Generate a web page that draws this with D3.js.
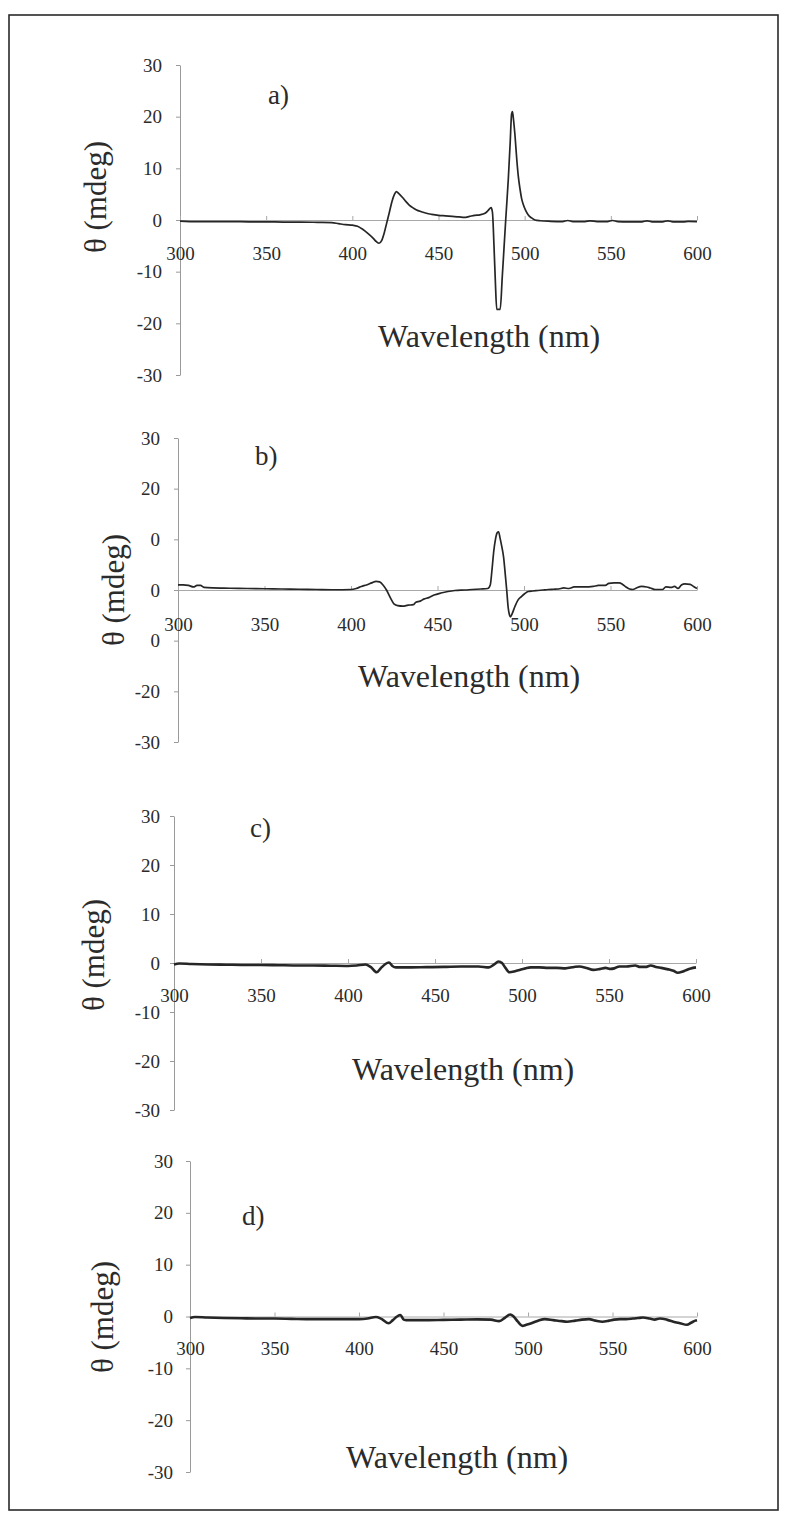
<!DOCTYPE html>
<html>
<head>
<meta charset="utf-8">
<script src="https://cdn.jsdelivr.net/npm/d3@7"></script>
<style>
  body { margin: 0; background: #fff; }
</style>
</head>
<body>
<svg id="fig" width="787" height="1520"></svg>
<script>
// ---- axis ticks and labels ----
const xTicks = [300, 350, 400, 450, 500, 550, 600];
const yTicks = [30, 20, 10, 0, -10, -20, -30];
const yLabelsStd = ["30", "20", "10", "0", "-10", "-20", "-30"];
const yLabelsB = ["30", "20", "0", "0", "0", "-20", "-30"];
const panelNames = ["a)", "b)", "c)", "d)"];
const xTitle = "Wavelength (nm)";
const yTitle = "θ (mdeg)";

// ---- CD spectra: [wavelength nm, ellipticity mdeg] ----
const specA = [
  [300,-0.2],[310,-0.3],[320,-0.3],[330,-0.3],[340,-0.35],[350,-0.35],[360,-0.4],[370,-0.4],
  [380,-0.45],[388,-0.5],[392,-0.7],[396,-0.9],[400,-1.0],[403,-1.2],[406,-1.8],[409,-2.6],
  [412,-3.5],[414,-4.2],[415.5,-4.5],[417,-4.0],[418.5,-2.5],[420,-0.5],[421.5,1.5],[423,3.6],
  [424.5,5.0],[425.5,5.5],[427,5.1],[429,4.4],[431,3.6],[433,2.9],[435,2.4],[437,2.0],
  [440,1.6],[443,1.3],[446,1.1],[450,0.9],[454,0.8],[458,0.7],[462,0.6],[465,0.5],
  [468,0.7],[471,0.9],[474,1.0],[477,1.3],[479,1.9],[480.5,2.4],[481.3,1.5],[482.2,-5],
  [483,-12],[483.8,-17.3],[485.8,-17.3],[487,-11],[488,-5.5],[489,0],[490.5,7.9],[491.6,15],
  [492.4,20.5],[492.9,21.0],[493.5,19.5],[494.4,16.3],[495.4,11.8],[496.3,8.5],[497.3,6.0],
  [498.2,4.2],[499.2,3.0],[500.5,1.9],[502,1.0],[504,0.4],[506,0],[509,-0.15],[515,-0.25],
  [522,-0.3],[525,-0.1],[528,-0.3],[535,-0.3],[538,-0.15],[542,-0.3],[548,-0.3],[551,-0.1],
  [554,-0.3],[560,-0.35],[568,-0.35],[571,-0.15],[574,-0.35],[580,-0.35],[583,-0.15],
  [586,-0.35],[592,-0.35],[595,-0.25],[600,-0.3]
];
const specB = [
  [300,1.0],[303,1.0],[306,0.9],[309,0.6],[311,0.9],[313,0.9],[315,0.5],[320,0.4],[330,0.35],
  [340,0.3],[350,0.25],[360,0.2],[370,0.15],[380,0.1],[390,0.05],[400,0.1],[403,0.3],[406,0.7],
  [409,1.0],[412,1.4],[414.5,1.7],[416.5,1.6],[418.5,1.0],[420.5,0.0],[422,-1.0],[423.5,-2.0],
  [425,-2.8],[427,-3.1],[430,-3.2],[433,-3.0],[436,-2.9],[437.5,-2.4],[440,-2.2],[442,-1.8],
  [445,-1.5],[448,-1.0],[452,-0.6],[456,-0.3],[460,-0.1],[466,0.0],[470,0.1],[475,0.2],
  [479,0.3],[480.5,1.0],[481.5,4],[482.5,7.6],[483.5,10.0],[484.5,11.3],[485.3,11.5],
  [486.2,10.2],[487.2,8.5],[488.2,6.5],[489.2,3],[490,0],[490.8,-3.3],[491.5,-4.8],[492.2,-5.3],
  [493,-4.8],[494.7,-3.3],[496.5,-2.0],[498.5,-1.3],[500.5,-0.7],[502.4,-0.3],[505,-0.2],
  [508,-0.1],[511,0.0],[514,0.1],[517,0.15],[520,0.2],[523,0.4],[526,0.3],[529,0.6],[535,0.6],
  [540,0.7],[543,0.9],[547,0.9],[549,1.3],[552,1.4],[555,1.4],[557,1.1],[559,0.6],[561,0.2],
  [563,0.1],[565,0.4],[568,0.7],[571,0.6],[573,0.4],[576,0.1],[580,0.1],[582,0.6],[585,0.5],
  [587,0.7],[589,0.3],[591,1.0],[593,1.2],[596,1.1],[598,0.7],[600,0.3]
];
const specC = [
  [300,-0.3],[303,-0.1],[310,-0.2],[320,-0.3],[330,-0.35],[340,-0.4],[350,-0.4],[360,-0.45],
  [370,-0.5],[380,-0.5],[390,-0.55],[400,-0.6],[405,-0.5],[410,-0.3],[413,-0.8],[416.5,-1.9],
  [419,-1.0],[421.5,-0.2],[423.5,0.1],[425.5,-0.6],[427.5,-0.9],[435,-0.9],[445,-0.85],
  [455,-0.8],[465,-0.7],[475,-0.7],[481,-0.9],[484,-0.3],[486.5,0.3],[488.5,0.0],[490.5,-1.0],
  [492.8,-1.9],[496,-1.7],[499,-1.4],[502,-1.1],[505,-0.9],[510,-0.9],[515,-1.0],[520,-1.0],
  [525,-1.1],[530,-0.8],[533,-0.7],[537,-1.0],[541,-1.4],[545,-1.2],[548,-1.0],[551,-1.2],
  [553,-1.1],[556,-0.7],[560,-0.7],[565,-0.5],[568,-0.8],[571,-0.8],[574,-0.5],[577,-0.8],
  [580,-1.0],[584,-1.3],[587,-1.6],[589.5,-2.0],[592,-1.8],[594,-1.5],[597,-1.1],[600,-0.9]
];
const specD = [
  [300,-0.3],[303,-0.1],[310,-0.2],[320,-0.3],[330,-0.35],[340,-0.4],[350,-0.4],[360,-0.45],
  [370,-0.5],[380,-0.5],[390,-0.5],[400,-0.5],[405,-0.4],[410,-0.1],[413,-0.4],[417.5,-1.3],
  [420,-0.7],[422.5,0.0],[424.5,0.3],[426.5,-0.6],[428,-0.7],[440,-0.7],[450,-0.65],[460,-0.6],
  [470,-0.55],[478,-0.6],[483,-0.9],[486.5,-0.2],[489.5,0.4],[491.5,0.0],[494,-1.0],[496.7,-1.8],
  [499,-1.6],[502,-1.3],[506,-0.8],[510,-0.5],[515,-0.7],[520,-0.9],[523,-1.0],[528,-0.8],
  [532,-0.6],[536,-0.5],[540,-0.8],[544,-1.0],[548,-0.8],[551,-0.6],[554.5,-0.5],[558,-0.5],
  [562,-0.4],[565,-0.3],[568,-0.2],[572,-0.4],[575,-0.6],[578,-0.4],[582,-0.6],[586,-1.0],
  [590,-1.3],[594,-1.6],[596.5,-1.2],[599,-0.8],[600,-0.7]
];

// ---- panel geometry ----
const panels = [
  { data: specA, labels: yLabelsStd, x0: 180, x1: 697, yTop: 65,   yBot: 375,  xPad: 27, yPad: 14,
    name: [268, 104],  xt: [378, 347],  yt: [106, 197],  lw: 1.7 },
  { data: specB, labels: yLabelsB,   x0: 178, x1: 697, yTop: 438,  yBot: 742,  xPad: 28, yPad: 14,
    name: [255, 465],  xt: [358, 687],  yt: [124, 590],  lw: 1.7 },
  { data: specC, labels: yLabelsStd, x0: 174, x1: 696, yTop: 816,  yBot: 1110, xPad: 26, yPad: 10,
    name: [250, 837],  xt: [352, 1080], yt: [104, 955],  lw: 2.6 },
  { data: specD, labels: yLabelsStd, x0: 190, x1: 697, yTop: 1161, yBot: 1472, xPad: 25, yPad: 13,
    name: [242, 1225], xt: [346, 1468], yt: [113, 1317], lw: 2.6 }
];

const SERIF = "'Liberation Serif', 'Times New Roman', 'DejaVu Serif', serif";
const INK = "#2b2b2b";

const svg = d3.select("#fig");

// outer frame
svg.append("rect")
  .attr("x", 9).attr("y", 15).attr("width", 769).attr("height", 1495)
  .attr("fill", "none").attr("stroke", "#2a2a2a").attr("stroke-width", 1.6);

panels.forEach((p, i) => {
  const x = d3.scaleLinear().domain([300, 600]).range([p.x0, p.x1]);
  const y = d3.scaleLinear().domain([30, -30]).range([p.yTop, p.yBot]);
  const g = svg.append("g");

  // y axis
  const ya = g.append("g")
    .attr("transform", `translate(${p.x0},0)`)
    .call(d3.axisLeft(y).tickValues(yTicks).tickFormat((d, k) => p.labels[k])
      .tickSizeInner(4).tickSizeOuter(0).tickPadding(p.yPad))
    .attr("font-family", SERIF).attr("font-size", 19);
  ya.select(".domain").attr("stroke", "#9a9a9a").attr("stroke-width", 1);
  ya.selectAll(".tick line").attr("stroke", "#9a9a9a");
  ya.selectAll("text").attr("fill", INK);

  // x axis on the zero line, labels set below
  const xa = g.append("g")
    .attr("transform", `translate(0,${y(0)})`)
    .call(d3.axisBottom(x).tickValues(xTicks)
      .tickSizeInner(-4).tickSizeOuter(0).tickPadding(p.xPad))
    .attr("font-family", SERIF).attr("font-size", 19);
  xa.select(".domain").attr("stroke", "#a8a8a8").attr("stroke-width", 1);
  xa.selectAll(".tick line").attr("stroke", "#a8a8a8");
  xa.selectAll("text").attr("fill", INK);

  // spectrum
  const line = d3.line().x(d => x(d[0])).y(d => y(d[1])).curve(d3.curveMonotoneX);
  g.append("path").datum(p.data)
    .attr("d", line)
    .attr("fill", "none").attr("stroke", "#262626")
    .attr("stroke-width", p.lw).attr("stroke-linejoin", "round");

  // panel name
  g.append("text").attr("x", p.name[0]).attr("y", p.name[1])
    .attr("font-family", SERIF).attr("fill", INK)
    .attr("font-size", 27).text(panelNames[i]);

  // axis titles
  g.append("text").attr("x", p.xt[0]).attr("y", p.xt[1])
    .attr("font-family", SERIF).attr("fill", INK)
    .attr("font-size", 32).text(xTitle);
  g.append("text")
    .attr("transform", `translate(${p.yt[0]},${p.yt[1]}) rotate(-90)`)
    .attr("font-family", SERIF).attr("fill", INK)
    .attr("text-anchor", "middle").attr("font-size", 31).text(yTitle);
});
</script>
</body>
</html>
